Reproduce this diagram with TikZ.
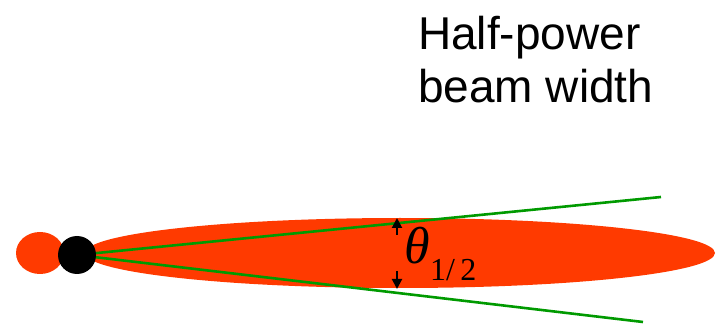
\documentclass[tikz,border=0pt]{standalone}
\usepackage{fontspec}
\setmainfont{Liberation Sans}
\newfontfamily\serifTNR{Liberation Serif}
\usetikzlibrary{arrows.meta}
\definecolor{beamred}{HTML}{FF3A00}
\definecolor{beamgreen}{HTML}{009A00}
\tikzset{
  beamline/.style={beamgreen, line width=2.6pt},
  hparrow/.style={-{Triangle[length=10pt,width=10pt]}, line width=2pt, black},
  bigtext/.style={font=\fontsize{46}{53}\selectfont, anchor=base west, inner sep=0pt, align=left},
}
\begin{document}
\begin{tikzpicture}[x=1pt,y=-1pt]
\useasboundingbox (0,0) rectangle (724,326);
% lobes
\fill[beamred] (400,253) ellipse [x radius=315, y radius=35];
\fill[beamred] (40,253) ellipse [x radius=24, y radius=21];
% beam edges
\coordinate (src) at (77,255);
\coordinate (up) at (661,197);
\coordinate (lo) at (643,322);
\draw[beamline] (src) -- (up);
\draw[beamline] (src) -- (lo);
% antenna
\fill[black] (src) circle [radius=19];
% arrows
\coordinate (a1s) at (397,235);
\coordinate (a1e) at (397,218);
\coordinate (a2s) at (397,271);
\coordinate (a2e) at (397,289);
\draw[hparrow] (a1s) -- (a1e);
\draw[hparrow] (a2s) -- (a2e);
% label
\node[anchor=base west, inner sep=0pt] (theta) at (404,263.5) {\serifTNR\fontsize{52}{52}\selectfont\itshape θ};
\node[anchor=base west, inner sep=0pt] (sub) at (430,280) {\serifTNR\fontsize{32}{32}\selectfont 1/\,2};
\node[bigtext] (t1) at (418,50) {Half-power};
\node[bigtext] (t2) at (418,103) {beam width};
\end{tikzpicture}
\end{document}
